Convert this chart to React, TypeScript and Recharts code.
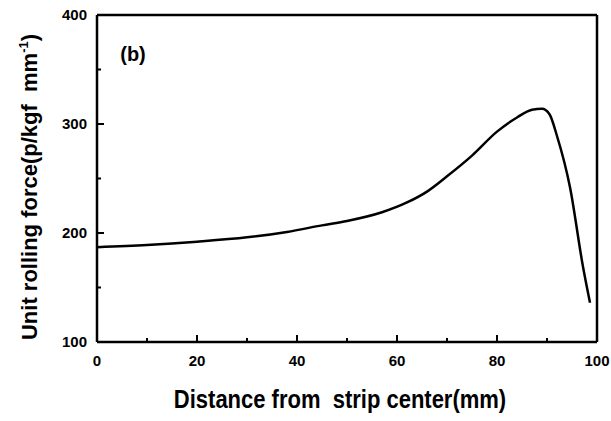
import { LineChart, Line, XAxis, YAxis, ReferenceLine } from "recharts";

// distance from strip center (mm) vs unit rolling force
const distance = [0, 10, 20, 30, 38, 45, 50, 57, 62, 66, 70, 75, 80, 84, 87, 89, 90.5, 92, 94.6, 97.2, 98.6];
const force = [187, 189, 192, 196, 201, 207, 211, 219, 228, 238, 252, 271, 293, 306, 313, 314, 309, 289, 242, 169, 136];

const xTicks = [0, 10, 20, 30, 40, 50, 60, 70, 80, 90, 100];
const yTicks = [100, 150, 200, 250, 300, 350, 400];

const data = distance.map((d, i) => ({ d, f: force[i] }));

const FONT = "'Liberation Sans', Arial, sans-serif";

const XTick = (props: any) => {
  const { x, y, payload } = props;
  const major = payload.value % 20 === 0;
  return (
    <g>
      <line x1={x} y1={y} x2={x} y2={y - (major ? 7 : 4)} stroke="#000" strokeWidth={2} />
      {major && (
        <text x={x} y={y + 24} textAnchor="middle" fontFamily={FONT} fontWeight="bold" fontSize={15} fill="#000">
          {payload.value}
        </text>
      )}
    </g>
  );
};

const YTick = (props: any) => {
  const { x, y, payload } = props;
  const major = payload.value % 100 === 0;
  return (
    <g>
      <line x1={x} y1={y} x2={x + (major ? 7 : 4)} y2={y} stroke="#000" strokeWidth={2} />
      {major && (
        <text x={x - 10} y={y + 5} textAnchor="end" fontFamily={FONT} fontWeight="bold" fontSize={15} fill="#000">
          {payload.value}
        </text>
      )}
    </g>
  );
};

export default function App() {
  return (
    <div style={{ position: "absolute", left: 0, top: 0, width: 611, height: 421, background: "#fff" }}>
      <LineChart width={611} height={421} data={data} margin={{ top: 15, right: 14, bottom: 49, left: 0 }}>
        <XAxis
          dataKey="d"
          type="number"
          domain={[0, 100]}
          ticks={xTicks}
          interval={0}
          height={30}
          tickSize={0}
          tickMargin={0}
          tick={<XTick />}
          axisLine={{ stroke: "#000", strokeWidth: 2.5 }}
          tickLine={false}
        />
        <YAxis
          type="number"
          domain={[100, 400]}
          ticks={yTicks}
          interval={0}
          width={97}
          tickSize={0}
          tickMargin={0}
          tick={<YTick />}
          axisLine={{ stroke: "#000", strokeWidth: 2.5 }}
          tickLine={false}
        />
        <ReferenceLine y={400} stroke="#000" strokeWidth={2.5} />
        <ReferenceLine x={100} stroke="#000" strokeWidth={2.5} />
        <Line
          type="monotone"
          dataKey="f"
          stroke="#000"
          strokeWidth={2.5}
          dot={false}
          isAnimationActive={false}
        />
      </LineChart>
      <svg width={611} height={421} style={{ position: "absolute", left: 0, top: 0, pointerEvents: "none" }}>
        <text x={133} y={61} textAnchor="middle" fontFamily={FONT} fontWeight="bold" fontSize={20} fill="#000">
          (b)
        </text>
        <text
          transform="translate(340,408) scale(0.88,1)"
          textAnchor="middle"
          fontFamily={FONT}
          fontWeight="bold"
          fontSize={25}
          fill="#000"
        >
          {"Distance from\u00a0 strip center(mm)"}
        </text>
        <text
          transform="translate(37,187) rotate(-90)"
          textAnchor="middle"
          fontFamily={FONT}
          fontWeight="bold"
          fontSize={22}
          fill="#000"
        >
          {"Unit rolling force(p/kgf\u00a0 mm"}
          <tspan fontSize={13} dy={-9}>-1</tspan>
          <tspan dy={9}>)</tspan>
        </text>
      </svg>
    </div>
  );
}
